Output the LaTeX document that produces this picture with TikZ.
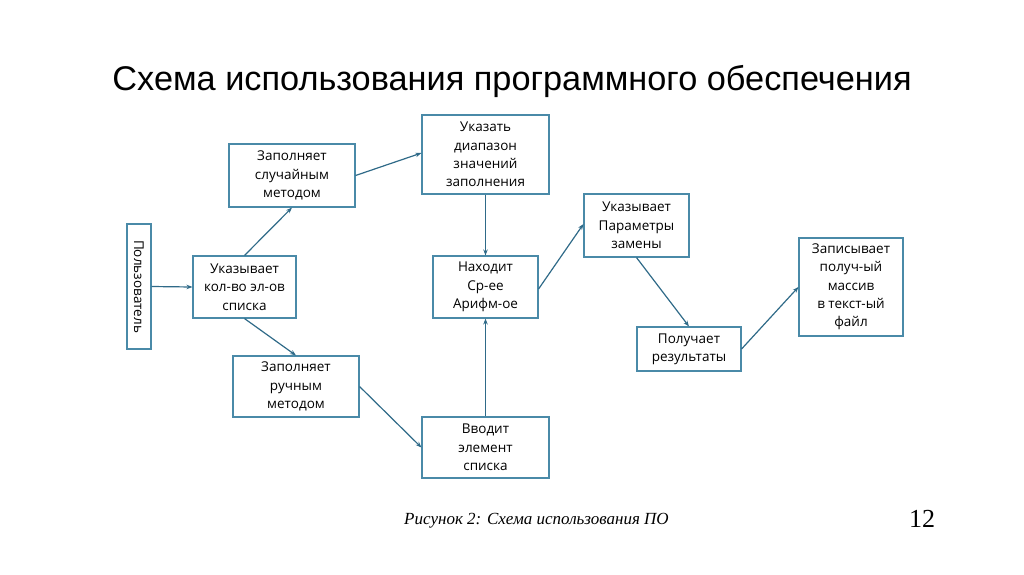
\documentclass[tikz,border=0pt]{standalone}
\usepackage{fontspec}
\setmainfont{Liberation Serif}
\newfontfamily\titlefont{Liberation Sans}
\newfontfamily\boxfont{Open Sans}
\usetikzlibrary{arrows.meta}
\definecolor{boxline}{HTML}{4A8AA8}
\definecolor{arrowline}{HTML}{2F6A88}
\tikzset{
  stepbox/.style={draw=boxline, line width=1.1pt, fill=white, inner sep=0pt,
    align=center, font=\boxfont\fontsize{13.5}{18.3}\selectfont, text=black},
  conn/.style={draw=arrowline, line width=1.2pt, -{Stealth[length=6pt,width=4.5pt]}}
}
\begin{document}
\begin{tikzpicture}[x=1pt,y=-1pt]
\useasboundingbox (0,0) rectangle (1024,574);
\node[font=\titlefont\fontsize{34.3}{40}\selectfont, anchor=base, inner sep=0pt] (title) at (512,90) {Схема использования программного обеспечения};

\node[stepbox, minimum width=24pt, minimum height=125pt] (user) at (139,286.5) {};
\node[rotate=-90, font=\boxfont\fontsize{13.5}{16}\selectfont, text=black] (usertext) at (user.center) {Пользователь};
\node[stepbox, minimum width=103pt, minimum height=62pt] (ukaz) at (244.5,287) {Указывает\\кол-во эл-ов\\списка};
\node[stepbox, minimum width=126pt, minimum height=63pt] (rand) at (292,175.5) {Заполняет\\случайным\\методом};
\node[stepbox, minimum width=127pt, minimum height=79pt] (range) at (485.5,154.5) {Указать\\диапазон\\значений\\заполнения};
\node[stepbox, minimum width=105pt, minimum height=62pt] (find) at (485.5,287) {Находит\\Ср-ее\\Арифм-ое};
\node[stepbox, minimum width=126pt, minimum height=61pt] (manual) at (296,386.5) {Заполняет\\ручным\\методом};
\node[stepbox, minimum width=127pt, minimum height=61pt] (input) at (485.5,447.5) {Вводит\\элемент\\списка};
\node[stepbox, minimum width=105pt, minimum height=63pt] (params) at (636.5,225.5) {Указывает\\Параметры\\замены};
\node[stepbox, minimum width=104pt, minimum height=44pt] (result) at (689,349) {Получает\\результаты};
\node[stepbox, minimum width=104pt, minimum height=98pt] (write) at (851,287) {Записывает\\получ-ый\\массив\\в текст-ый\\файл};

\draw[conn] (user.east) -- (ukaz.west);
\draw[conn] (ukaz.north) -- (rand.south);
\draw[conn] (ukaz.south) -- (manual.north);
\draw[conn] (rand.east) -- ([yshift=1.5pt]range.west);
\draw[conn] (manual.east) -- (input.west);
\draw[conn] (range.south) -- (find.north);
\draw[conn] (input.north) -- (find.south);
\draw[conn] ([yshift=-2pt]find.east) -- ([yshift=1.5pt]params.west);
\draw[conn] (params.south) -- (result.north);
\draw[conn] (result.east) -- (write.west);

\node[font=\itshape\fontsize{17}{20}\selectfont, anchor=base west, inner sep=0pt] (caption) at (404,524) {Рисунок 2: Схема использования ПО};
\node[font=\fontsize{26}{30}\selectfont, anchor=base, inner sep=0pt] (pagenum) at (922,527) {12};
\end{tikzpicture}
\end{document}
